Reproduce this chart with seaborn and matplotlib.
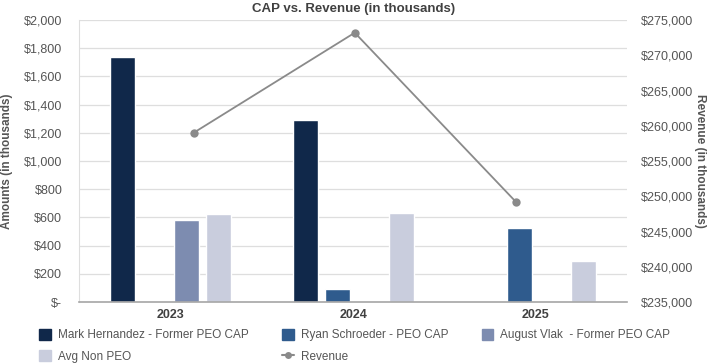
import pandas as pd
import matplotlib.pyplot as plt
import seaborn as sns
from matplotlib.patches import Patch
from matplotlib.lines import Line2D
from matplotlib.ticker import FuncFormatter

# --- data (in thousands) ---
years = ["2023", "2024", "2025"]
mark_cap = [1740, 1290, None]
ryan_cap = [None, 92, 525]
august_cap = [582, None, None]
avg_non_peo = [624, 631, 291]
revenue = [259000, 273200, 249200]

series = ["Mark Hernandez - Former PEO CAP", "Ryan Schroeder - PEO CAP",
          "August Vlak  - Former PEO CAP", "Avg Non PEO"]
colors = ["#10284a", "#2f5b8d", "#7d8cb0", "#c9cddd"]

rows = []
for name, vals in zip(series, [mark_cap, ryan_cap, august_cap, avg_non_peo]):
    for yr, v in zip(years, vals):
        if v is not None:
            rows.append({"year": yr, "series": name, "amount": v})
df = pd.DataFrame(rows)
df_rev = pd.DataFrame({"year": years, "revenue": revenue})

sns.set_style("white")
plt.rcParams["font.family"] = ["Liberation Sans", "DejaVu Sans"]
txt = "#555555"

fig = plt.figure(figsize=(7.12, 3.64), dpi=100)
ax = fig.add_axes([0.111, 0.170, 0.770, 0.775])

sns.barplot(data=df, x="year", y="amount", hue="series", order=years,
            hue_order=series, palette=colors, width=0.7, gap=0.22,
            saturation=1, legend=False, ax=ax)
ax.set_xlim(-0.5, 2.5)
ax.set_ylim(0, 2000)
ax.set_yticks(range(0, 2001, 200))
ax.yaxis.set_major_formatter(FuncFormatter(lambda v, p: "$-" if v == 0 else f"${v:,.0f}"))
ax.grid(axis="y", color="#dedede", lw=0.9)
ax.set_axisbelow(True)
for s in ["top", "right"]:
    ax.spines[s].set_visible(False)
ax.spines["left"].set_color("#dedede")
ax.spines["bottom"].set_color("#a6a6a6")
ax.spines["bottom"].set_linewidth(1.2)
ax.tick_params(axis="y", length=0, labelsize=9, labelcolor=txt, pad=12)
ax.tick_params(axis="x", length=0, labelsize=9, labelcolor="#404040", pad=5)
for lab in ax.get_xticklabels():
    lab.set_fontweight("bold")
ax.set_xlabel("")
ax.set_ylabel("Amounts (in thousands)", fontsize=8.5, fontweight="bold", color=txt, labelpad=8)
ax.set_title("CAP vs. Revenue (in thousands)", fontsize=9.5, fontweight="bold",
             color="#404040", pad=6)

# revenue line on its own overlay axes (right scale)
ax2 = fig.add_axes(ax.get_position(), facecolor="none")
sns.lineplot(data=df_rev, x="year", y="revenue", color="#8a8a8a", lw=1.3,
             marker="o", markersize=6, markeredgewidth=0, ax=ax2)
ax2.set_xlim(-0.71, 2.69)
ax2.set_ylim(235000, 275000)
ax2.set_yticks(range(235000, 275001, 5000))
ax2.yaxis.set_major_formatter(FuncFormatter(lambda v, p: f"${v:,.0f}"))
ax2.yaxis.tick_right()
ax2.yaxis.set_label_position("right")
ax2.xaxis.set_visible(False)
for s in ax2.spines.values():
    s.set_visible(False)
ax2.tick_params(axis="y", length=0, labelsize=9, labelcolor=txt, pad=10)
ax2.set_ylabel("Revenue (in thousands)", fontsize=8.5, fontweight="bold", color=txt,
               rotation=270, labelpad=9)

handles = [Patch(color=colors[0]), Patch(color=colors[3]), Patch(color=colors[1]),
           Line2D([], [], color="#8a8a8a", marker="o", markersize=5, markeredgewidth=0),
           Patch(color=colors[2])]
labels = [series[0], series[3], series[1], "Revenue", series[2]]
fig.legend(handles, labels, ncol=3, loc="upper left", bbox_to_anchor=(0.047, 0.112),
           frameon=False, fontsize=8.5, labelcolor=txt, handlelength=1.0,
           handleheight=1.0, handletextpad=0.6, columnspacing=2.8, labelspacing=0.75,
           borderpad=0)

fig.savefig("out.png", dpi=100)
